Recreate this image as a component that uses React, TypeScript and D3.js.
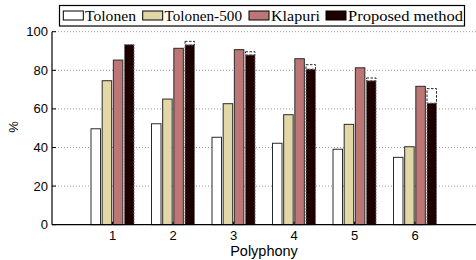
import React from "react";
import * as d3 from "d3";

const categories = [1, 2, 3, 4, 5, 6];
const seriesNames = ["Tolonen", "Tolonen-500", "Klapuri", "Proposed method"];
const tolonen = [49.7, 52.3, 45.3, 42.2, 39.1, 34.9];
const tolonen500 = [74.6, 65.1, 62.7, 57.0, 52.0, 40.4];
const klapuri = [85.3, 91.4, 90.7, 86.0, 81.3, 71.7];
const proposed = [93.3, 93.1, 87.9, 80.5, 74.5, 62.9];
const proposedUpper = [93.3, 95.0, 89.6, 82.9, 76.0, 70.5];
const yTicks = [0, 20, 40, 60, 80, 100];
const colors = ["#ffffff", "#e2d7a7", "#bd7676", "#1f0000"];

const W = 476;
const H = 260;
const left = 52;
const right = 475.5;
const yTop = 31.7;
const yBottom = 224.7;

export default function App() {
  const x = d3.scaleLinear().domain([0, 7]).range([left, right]);
  const y = d3.scaleLinear().domain([0, 100]).range([yBottom, yTop]);
  const band = d3.scaleBand<string>().domain(seriesNames).range([-21.5, 21.5]).paddingInner(0.15).paddingOuter(0);
  const values = [tolonen, tolonen500, klapuri, proposed];
  const sans = "'Liberation Sans', Arial, Helvetica, sans-serif";
  const serif = "'Liberation Serif', 'Times New Roman', serif";

  const legendItems = [
    { sw: 63.3, tx: 85, tw: 51 },
    { sw: 142.7, tx: 164.5, tw: 77.5 },
    { sw: 249, tx: 271, tw: 49 },
    { sw: 326, tx: 348, tw: 115 },
  ];

  return (
    <svg width={W} height={H} style={{ position: "absolute", left: 0, top: 0, background: "#fff" }}>
      {/* grid */}
      {yTicks.filter((t) => t > 0).map((t) => (
        <line key={"g" + t} x1={left} x2={W} y1={y(t)} y2={y(t)} stroke="#9a9a9a" strokeWidth={1} strokeDasharray="1,2" />
      ))}
      {/* bars */}
      {categories.map((c, ci) => (
        <g key={"c" + c}>
          {seriesNames.map((s, si) => {
            const v = values[si][ci];
            const bx = x(c) + (band(s) as number);
            const bw = band.bandwidth();
            const isProp = si === 3;
            return (
              <g key={s}>
                {isProp && proposedUpper[ci] > v + 0.1 && (
                  <rect x={bx} y={y(proposedUpper[ci])} width={bw} height={y(v) - y(proposedUpper[ci])} fill="#fff" stroke="#222" strokeWidth={1} strokeDasharray="2.5,1.5" />
                )}
                <rect
                  x={bx}
                  y={y(v)}
                  width={bw}
                  height={y(0) - y(v)}
                  fill={colors[si]}
                  stroke={isProp ? "#666" : "#2a2a2a"}
                  strokeWidth={1}
                  strokeDasharray={isProp ? "2,1" : undefined}
                />
              </g>
            );
          })}
        </g>
      ))}
      {/* axes */}
      <line x1={left} x2={left} y1={yTop} y2={yBottom} stroke="#000" strokeWidth={1.2} />
      <line x1={left} x2={W} y1={yBottom} y2={yBottom} stroke="#000" strokeWidth={1.2} />
      {yTicks.map((t) => (
        <g key={"yt" + t}>
          <line x1={left} x2={left + 4} y1={y(t)} y2={y(t)} stroke="#000" strokeWidth={1} />
          <text x={left - 4} y={y(t)} dy="0.35em" textAnchor="end" fontFamily={sans} fontSize={13} fill="#000">
            {t}
          </text>
        </g>
      ))}
      {categories.map((c) => (
        <g key={"xt" + c}>
          <line x1={x(c)} x2={x(c)} y1={yBottom} y2={yBottom - 3} stroke="#000" strokeWidth={1} />
          <text x={x(c)} y={239.5} textAnchor="middle" fontFamily={sans} fontSize={13} fill="#000">
            {c}
          </text>
        </g>
      ))}
      <text x={264} y={255.5} textAnchor="middle" fontFamily={sans} fontSize={14.5} fill="#000">
        Polyphony
      </text>
      <text transform={`translate(18,127) rotate(-90)`} textAnchor="middle" fontFamily={sans} fontSize={13} fill="#000">
        %
      </text>
      {/* legend */}
      <rect x={59.5} y={5.5} width={405} height={20.5} fill="#fff" stroke="#000" strokeWidth={1.2} />
      {legendItems.map((it, i) => (
        <g key={"l" + i}>
          <rect x={it.sw} y={11} width={20} height={9} fill={colors[i]} stroke="#000" strokeWidth={1} />
          <text x={it.tx} y={20.5} fontFamily={serif} fontSize={15} fill="#000" textLength={it.tw} lengthAdjust="spacingAndGlyphs">
            {seriesNames[i]}
          </text>
        </g>
      ))}
    </svg>
  );
}
